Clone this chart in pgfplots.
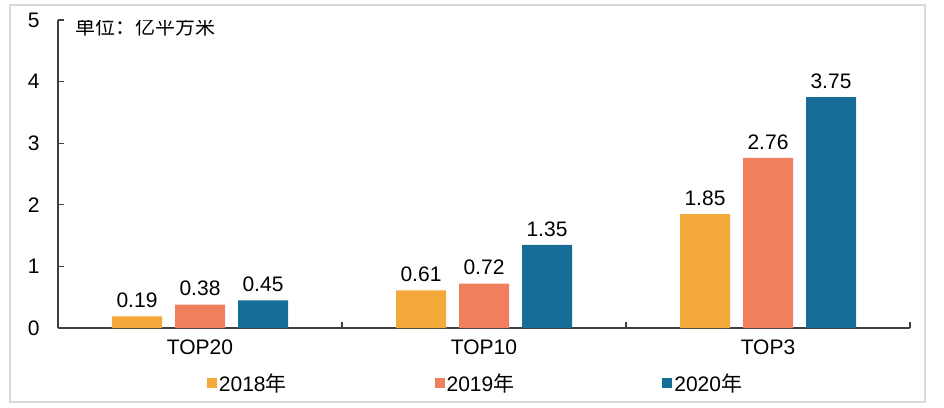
\documentclass[border=0pt]{standalone}
\usepackage{fontspec}
\setmainfont{Liberation Sans}
\newfontfamily\cjk{Noto Sans CJK SC}
\usepackage{pgfplots}
\pgfplotsset{compat=1.18}

\definecolor{cA}{HTML}{F5A93A}
\definecolor{cB}{HTML}{F07F5E}
\definecolor{cC}{HTML}{166E96}
\definecolor{axisgray}{HTML}{404040}

\begin{document}
\begin{tikzpicture}
\useasboundingbox (-58bp,-80bp) rectangle (886bp,328bp);
\draw[line width=1.5bp, black!15] (-48bp,-74bp) rectangle (867bp,323bp);
\begin{axis}[
  scale only axis,
  width=852bp, height=308bp,
  anchor=south west, at={(0,0)},
  ymin=0, ymax=5, ytick={0,1,2,3,4,5},
  xmin=-0.5, xmax=2.5,
  xtick={-0.5,0.5,1.5,2.5}, xticklabels={},
  extra x ticks={0,1,2}, extra x tick labels={TOP20,TOP10,TOP3},
  extra x tick style={major tick length=0pt, xticklabel style={yshift=-8bp}},
  axis x line*=bottom, axis y line*=left,
  axis line style={axisgray, line width=1.3bp},
  tick style={axisgray, line width=1.3bp},
  xtick align=outside, ytick align=inside,
  major tick length=6bp,
  every major x tick/.append style={yshift=6bp},
  font=\fontsize{21bp}{24bp}\selectfont,
  /pgf/number format/assume math mode=true,
  yticklabel style={xshift=-15bp},
  ybar, bar width=50bp,
  nodes near coords,
  every node near coord/.append style={font=\fontsize{21bp}{24bp}\selectfont, yshift=5bp,
    /pgf/number format/fixed, /pgf/number format/precision=2, /pgf/number format/fixed zerofill},
  legend style={draw=none, at={(0.49,-55bp)}, anchor=center, legend columns=3,
    font=\fontsize{21bp}{24bp}\selectfont,
    /tikz/every even column/.append style={column sep=146bp}},
  legend image code/.code={\fill[#1] (0bp,-5bp) rectangle (10bp,5bp);},
]
\addplot[fill=cA, draw=none, bar shift=-63bp] coordinates {(0,0.19) (1,0.61) (2,1.85)};
\addplot[fill=cB, draw=none, bar shift=0bp] coordinates {(0,0.38) (1,0.72) (2,2.76)};
\addplot[fill=cC, draw=none, bar shift=63bp] coordinates {(0,0.45) (1,1.35) (2,3.75)};
\legend{2018{\cjk 年}, 2019{\cjk 年}, 2020{\cjk 年}}
\node[anchor=west, font=\cjk\fontsize{20bp}{22bp}\selectfont] at ([shift={(14bp,-7bp)}]rel axis cs:0,1) {单位：亿平方米};
\end{axis}
\end{tikzpicture}
\end{document}
